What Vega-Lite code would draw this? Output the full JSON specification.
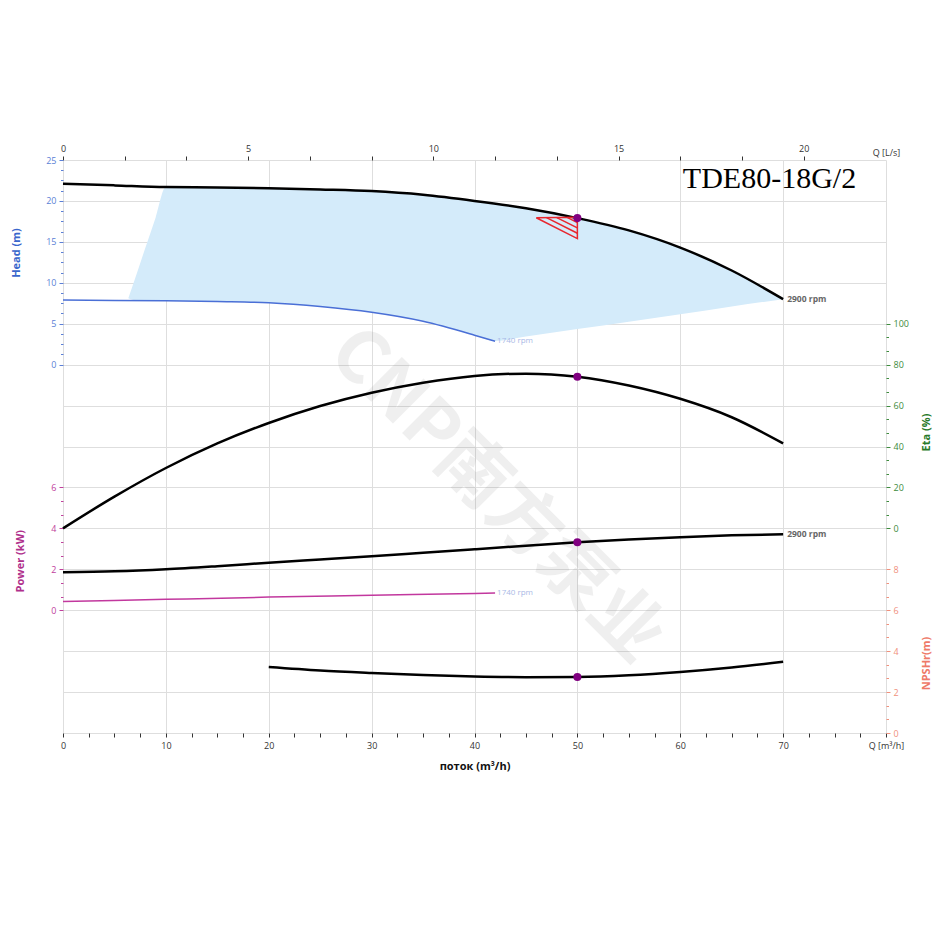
{
 "$schema": "https://vega.github.io/schema/vega-lite/v6.json",
 "width": 823,
 "height": 573,
 "autosize": {"type": "none"},
 "padding": {"left": 63, "top": 160, "right": 64, "bottom": 217},
 "background": "white",
 "config": {
  "view": {"stroke": null},
  "axis": {"domain": false, "labelFont": "Open Sans", "titleFont": "Open Sans", "labelFontSize": 9, "titleFontSize": 11, "titleFontWeight": "bold", "gridColor": "#dedede", "gridWidth": 1, "labelOverlap": false, "labelFlush": false}
 },
 "datasets": {
  "area": [
   {"q": 6.35, "lo": 8.1, "v": 8.1}, {"q": 7, "lo": 7.85, "v": 10.5}, {"q": 8, "lo": 7.83, "v": 14.25}, {"q": 9, "lo": 7.81, "v": 17.95},
   {"q": 10, "lo": 7.8, "v": 21.7}, {"q": 15, "lo": 7.7, "v": 21.65}, {"q": 20, "lo": 7.55, "v": 21.55}, {"q": 25, "lo": 7.1, "v": 21.4},
   {"q": 30, "lo": 6.4, "v": 21.2}, {"q": 35, "lo": 5.3, "v": 20.75}, {"q": 40, "lo": 3.6, "v": 20.0}, {"q": 42, "lo": 2.9, "v": 19.65},
   {"q": 45, "lo": 3.45, "v": 19.1}, {"q": 50, "lo": 4.35, "v": 17.9}, {"q": 55, "lo": 5.25, "v": 16.4}, {"q": 60, "lo": 6.15, "v": 14.3},
   {"q": 65, "lo": 7.1, "v": 11.5}, {"q": 70, "lo": 8.0, "v": 8.0}
  ],
  "h2900": [
   {"q": 0, "v": 22.1}, {"q": 5, "v": 21.9}, {"q": 10, "v": 21.7}, {"q": 15, "v": 21.65}, {"q": 20, "v": 21.55}, {"q": 25, "v": 21.4},
   {"q": 30, "v": 21.2}, {"q": 35, "v": 20.75}, {"q": 40, "v": 20.0}, {"q": 45, "v": 19.1}, {"q": 50, "v": 17.9}, {"q": 55, "v": 16.4},
   {"q": 60, "v": 14.3}, {"q": 65, "v": 11.5}, {"q": 70, "v": 8.0}
  ],
  "h1740": [
   {"q": 0, "v": 7.9}, {"q": 5, "v": 7.85}, {"q": 10, "v": 7.8}, {"q": 15, "v": 7.7}, {"q": 20, "v": 7.55}, {"q": 25, "v": 7.1},
   {"q": 30, "v": 6.4}, {"q": 35, "v": 5.3}, {"q": 40, "v": 3.6}, {"q": 42, "v": 2.85}
  ],
  "tri": [
   {"s": "t", "o": 0, "q": 46.0, "v": 17.95}, {"s": "t", "o": 1, "q": 50, "v": 18.0}, {"s": "t", "o": 2, "q": 50, "v": 15.4}, {"s": "t", "o": 3, "q": 46.0, "v": 17.95},
   {"s": "a", "o": 0, "q": 47, "v": 17.96}, {"s": "a", "o": 1, "q": 50, "v": 16.05},
   {"s": "b", "o": 0, "q": 48, "v": 17.97}, {"s": "b", "o": 1, "q": 50, "v": 16.7},
   {"s": "c", "o": 0, "q": 49, "v": 17.99}, {"s": "c", "o": 1, "q": 50, "v": 17.35}
  ],
  "hop": [{"q": 50, "v": 17.9}],
  "hlab29": [{"q": 70, "v": 8.0, "t": "2900 rpm"}],
  "hlab17": [{"q": 42, "v": 2.85, "t": "1740 rpm"}],
  "ttl": [{"q": 60.25, "v": 21.6, "t": "TDE80-18G/2"}],
  "wm": [{"q": 42.1, "v": -16.0, "t": "CNP南方泵业"}],
  "eta": [
   {"q": 0, "v": 0}, {"q": 5, "v": 15.5}, {"q": 10, "v": 29.5}, {"q": 15, "v": 41.5}, {"q": 20, "v": 51.5}, {"q": 25, "v": 59.8},
   {"q": 30, "v": 66.3}, {"q": 35, "v": 71.2}, {"q": 40, "v": 74.5}, {"q": 45, "v": 75.6}, {"q": 50, "v": 74.1}, {"q": 55, "v": 69.8},
   {"q": 60, "v": 63.3}, {"q": 65, "v": 54.3}, {"q": 70, "v": 41.5}
  ],
  "eop": [{"q": 50, "v": 74.1}],
  "p2900": [
   {"q": 0, "v": 1.86}, {"q": 5, "v": 1.9}, {"q": 10, "v": 2.0}, {"q": 15, "v": 2.15}, {"q": 20, "v": 2.32}, {"q": 25, "v": 2.48},
   {"q": 30, "v": 2.64}, {"q": 35, "v": 2.81}, {"q": 40, "v": 2.98}, {"q": 45, "v": 3.15}, {"q": 50, "v": 3.32}, {"q": 55, "v": 3.46},
   {"q": 60, "v": 3.57}, {"q": 65, "v": 3.66}, {"q": 70, "v": 3.71}
  ],
  "p1740": [
   {"q": 0, "v": 0.42}, {"q": 10, "v": 0.53}, {"q": 20, "v": 0.64}, {"q": 30, "v": 0.73}, {"q": 40, "v": 0.82}, {"q": 42, "v": 0.84}
  ],
  "pop": [{"q": 50, "v": 3.32}],
  "plab29": [{"q": 70, "v": 3.71, "t": "2900 rpm"}],
  "plab17": [{"q": 42, "v": 0.84, "t": "1740 rpm"}],
  "npsh": [
   {"q": 20, "v": 3.22}, {"q": 25, "v": 3.05}, {"q": 30, "v": 2.93}, {"q": 35, "v": 2.83}, {"q": 40, "v": 2.76}, {"q": 45, "v": 2.73},
   {"q": 50, "v": 2.74}, {"q": 55, "v": 2.82}, {"q": 60, "v": 2.98}, {"q": 65, "v": 3.2}, {"q": 70, "v": 3.48}
  ],
  "nop": [{"q": 50, "v": 2.74}]
 },
 "layer": [
  {
   "encoding": {
    "x": {"field": "q", "type": "quantitative", "scale": {"domain": [0, 80], "nice": false, "zero": false},
     "axis": {"orient": "bottom", "values": [0, 2.5, 5, 7.5, 10, 12.5, 15, 17.5, 20, 22.5, 25, 27.5, 30, 32.5, 35, 37.5, 40, 42.5, 45, 47.5, 50, 52.5, 55, 57.5, 60, 62.5, 65, 67.5, 70, 72.5, 75, 77.5, 80],
      "labelExpr": "datum.value == 80 ? 'Q [m³/h]' : (datum.value % 10 == 0 ? datum.label : '')",
      "tickSize": 4, "tickColor": "#333", "labelColor": "#333", "grid": true,
      "gridOpacity": {"condition": {"test": "datum.value % 10 == 0", "value": 1}, "value": 0},
      "title": "поток (m³/h)", "titleColor": "#111", "titleFontSize": 11, "titlePadding": 10, "labelPadding": 4}}
   },
   "layer": [
    {
     "encoding": {"y": {"field": "v", "type": "quantitative", "scale": {"domain": [-45, 25], "nice": false, "zero": false},
      "axis": {"orient": "left", "values": [0, 1.25, 2.5, 3.75, 5, 6.25, 7.5, 8.75, 10, 11.25, 12.5, 13.75, 15, 16.25, 17.5, 18.75, 20, 21.25, 22.5, 23.75, 25],
       "labelExpr": "datum.value % 5 == 0 ? datum.label : ''",
       "labelColor": "#5b7fd6", "tickColor": "#5b7fd6",
       "tickSize": {"condition": {"test": "datum.value % 5 == 0", "value": 4}, "value": 2.5},
       "grid": true, "gridOpacity": {"condition": {"test": "datum.value % 5 == 0", "value": 1}, "value": 0},
       "title": "Head (m)", "titleColor": "#3a66cc", "titleAngle": -90, "titleX": -47, "titleY": 92.5, "titleAlign": "center", "titleBaseline": "middle", "labelPadding": 3}}},
     "layer": [
      {"data": {"name": "area"}, "mark": {"type": "area", "color": "#d4ebfa", "opacity": 1, "interpolate": "monotone"}, "encoding": {"y2": {"field": "lo"}}},
      {"data": {"name": "wm"}, "mark": {"type": "text", "angle": 45, "fontSize": 72, "fontWeight": "bold", "font": "Noto Sans CJK SC", "color": "#555", "opacity": 0.09, "align": "center", "baseline": "middle"}, "encoding": {"text": {"field": "t"}}},
      {"data": {"name": "h1740"}, "mark": {"type": "line", "color": "#4a6fd6", "strokeWidth": 1.5, "interpolate": "monotone"}, "encoding": {}},
      {"data": {"name": "h2900"}, "mark": {"type": "line", "color": "#000", "strokeWidth": 2.5, "interpolate": "monotone"}, "encoding": {}},
      {"data": {"name": "tri"}, "mark": {"type": "line", "color": "#e8262e", "strokeWidth": 1.5}, "encoding": {"detail": {"field": "s"}, "order": {"field": "o"}}},
      {"data": {"name": "hop"}, "mark": {"type": "point", "filled": true, "color": "#800080", "size": 65, "opacity": 1}},
      {"data": {"name": "hlab29"}, "mark": {"type": "text", "align": "left", "baseline": "middle", "dx": 4, "fontSize": 8.5, "fontWeight": "bold", "font": "Open Sans", "color": "#666"}, "encoding": {"text": {"field": "t"}}},
      {"data": {"name": "hlab17"}, "mark": {"type": "text", "align": "left", "baseline": "middle", "dx": 2, "fontSize": 8, "font": "Open Sans", "color": "#a9b9e6"}, "encoding": {"text": {"field": "t"}}},
      {"data": {"name": "ttl"}, "mark": {"type": "text", "align": "left", "baseline": "alphabetic", "fontSize": 30, "font": "Liberation Serif", "color": "#000"}, "encoding": {"text": {"field": "t"}}}
     ]
    },
    {
     "encoding": {"y": {"field": "v", "type": "quantitative", "scale": {"domain": [-100, 180], "nice": false, "zero": false},
      "axis": {"orient": "right", "values": [0, 6.6667, 13.3333, 20, 26.6667, 33.3333, 40, 46.6667, 53.3333, 60, 66.6667, 73.3333, 80, 86.6667, 93.3333, 100],
       "labelExpr": "abs(datum.value - round(datum.value/20)*20) < 0.01 ? format(datum.value, 'd') : ''",
       "labelColor": "#3d8b3d", "tickColor": "#3d8b3d",
       "tickSize": {"condition": {"test": "abs(datum.value - round(datum.value/20)*20) < 0.01", "value": 4}, "value": 2.5},
       "grid": true, "gridOpacity": {"condition": {"test": "abs(datum.value - round(datum.value/20)*20) < 0.01 && datum.value < 70", "value": 1}, "value": 0},
       "title": "Eta (%)", "titleColor": "#2a7a2a", "titleAngle": 270, "titleX": 40, "titleY": 272, "titleAlign": "center", "titleBaseline": "middle", "labelPadding": 3}}},
     "layer": [
      {"data": {"name": "eta"}, "mark": {"type": "line", "color": "#000", "strokeWidth": 2.5, "interpolate": "monotone"}, "encoding": {}},
      {"data": {"name": "eop"}, "mark": {"type": "point", "filled": true, "color": "#800080", "size": 65, "opacity": 1}}
     ]
    },
    {
     "encoding": {"y": {"field": "v", "type": "quantitative", "scale": {"domain": [-6, 22], "nice": false, "zero": false},
      "axis": {"orient": "left", "values": [0, 0.6667, 1.3333, 2, 2.6667, 3.3333, 4, 4.6667, 5.3333, 6],
       "labelExpr": "abs(datum.value - round(datum.value/2)*2) < 0.01 ? format(datum.value, 'd') : ''",
       "labelColor": "#c0409c", "tickColor": "#c0409c",
       "tickSize": {"condition": {"test": "abs(datum.value - round(datum.value/2)*2) < 0.01", "value": 4}, "value": 2.5},
       "grid": true, "gridOpacity": {"condition": {"test": "abs(datum.value - round(datum.value/2)*2) < 0.01 && datum.value < 3", "value": 1}, "value": 0},
       "title": "Power (kW)", "titleColor": "#b0308c", "titleAngle": -90, "titleX": -43, "titleY": 400.7, "titleAlign": "center", "titleBaseline": "middle", "labelPadding": 3}}},
     "layer": [
      {"data": {"name": "p1740"}, "mark": {"type": "line", "color": "#c2389e", "strokeWidth": 1.5, "interpolate": "monotone"}, "encoding": {}},
      {"data": {"name": "p2900"}, "mark": {"type": "line", "color": "#000", "strokeWidth": 2.5, "interpolate": "monotone"}, "encoding": {}},
      {"data": {"name": "pop"}, "mark": {"type": "point", "filled": true, "color": "#800080", "size": 65, "opacity": 1}},
      {"data": {"name": "plab29"}, "mark": {"type": "text", "align": "left", "baseline": "middle", "dx": 4, "fontSize": 8.5, "fontWeight": "bold", "font": "Open Sans", "color": "#666"}, "encoding": {"text": {"field": "t"}}},
      {"data": {"name": "plab17"}, "mark": {"type": "text", "align": "left", "baseline": "middle", "dx": 2, "fontSize": 8, "font": "Open Sans", "color": "#a9b9e6"}, "encoding": {"text": {"field": "t"}}}
     ]
    },
    {
     "encoding": {"y": {"field": "v", "type": "quantitative", "scale": {"domain": [0, 28], "nice": false, "zero": false},
      "axis": {"orient": "right", "values": [0, 0.6667, 1.3333, 2, 2.6667, 3.3333, 4, 4.6667, 5.3333, 6, 6.6667, 7.3333, 8],
       "labelExpr": "abs(datum.value - round(datum.value/2)*2) < 0.01 ? format(datum.value, 'd') : ''",
       "labelColor": "#f0907c", "tickColor": "#f0907c",
       "tickSize": {"condition": {"test": "abs(datum.value - round(datum.value/2)*2) < 0.01", "value": 4}, "value": 2.5},
       "grid": true, "gridOpacity": {"condition": {"test": "abs(datum.value - round(datum.value/2)*2) < 0.01 && datum.value < 5", "value": 1}, "value": 0},
       "title": "NPSHr(m)", "titleColor": "#ee7a68", "titleAngle": 270, "titleX": 40, "titleY": 503, "titleAlign": "center", "titleBaseline": "middle", "labelPadding": 3}}},
     "layer": [
      {"data": {"name": "npsh"}, "mark": {"type": "line", "color": "#000", "strokeWidth": 2.5, "interpolate": "monotone"}, "encoding": {}},
      {"data": {"name": "nop"}, "mark": {"type": "point", "filled": true, "color": "#800080", "size": 65, "opacity": 1}}
     ]
    }
   ],
   "resolve": {"scale": {"y": "independent"}}
  },
  {
   "data": {"values": [{"ls": 0}, {"ls": 22.2222}]},
   "mark": {"type": "point", "opacity": 0},
   "encoding": {
    "x": {"field": "ls", "type": "quantitative", "scale": {"domain": [0, 22.2222], "nice": false, "zero": false},
     "axis": {"orient": "top", "values": [0, 1.6667, 3.3333, 5, 6.6667, 8.3333, 10, 11.6667, 13.3333, 15, 16.6667, 18.3333, 20, 22.2222],
      "labelExpr": "datum.value > 21 ? 'Q [L/s]' : (abs(datum.value - round(datum.value/5)*5) < 0.01 ? format(datum.value, 'd') : '')",
      "tickSize": {"condition": {"test": "datum.value > 21", "value": 0}, "value": 4},
      "tickColor": "#333", "labelColor": "#333", "grid": false, "title": null, "labelPadding": 3}}
   }
  }
 ],
 "resolve": {"scale": {"x": "independent", "y": "independent"}}
}
